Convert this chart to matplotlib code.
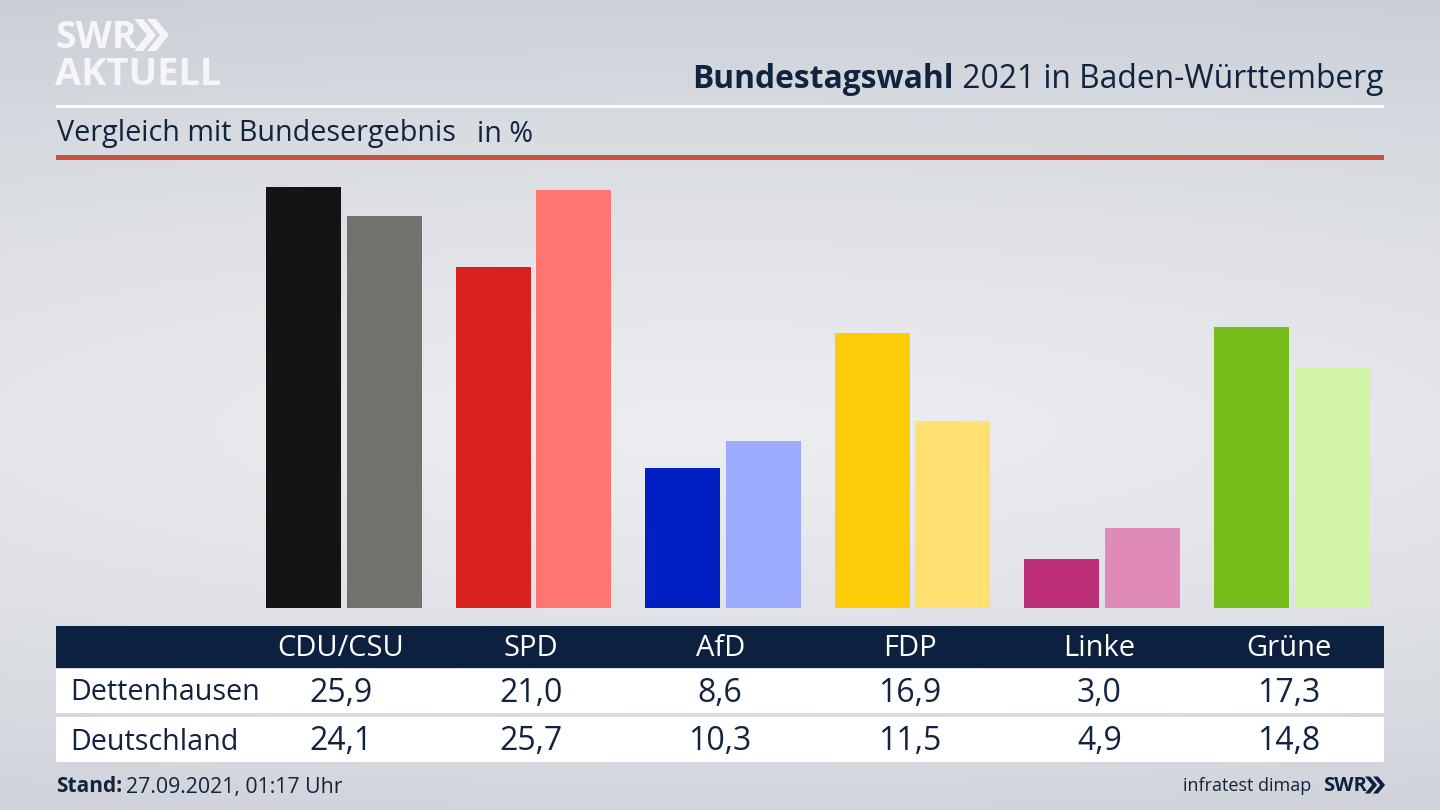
import numpy as np
import matplotlib
matplotlib.use("Agg")
import matplotlib.pyplot as plt
from matplotlib.patches import Rectangle, Polygon
from matplotlib.transforms import blended_transform_factory

parties = ["CDU/CSU", "SPD", "AfD", "FDP", "Linke", "Grüne"]
dettenhausen = [25.9, 21.0, 8.6, 16.9, 3.0, 17.3]
deutschland = [24.1, 25.7, 10.3, 11.5, 4.9, 14.8]
row_names = ["Dettenhausen", "Deutschland"]
colors_local = ["#141414", "#d8201f", "#0020c4", "#ffcc0a", "#bc2e78", "#77bd1c"]
colors_national = ["#72716e", "#ff7570", "#9dabff", "#ffe070", "#e08ab8", "#d3f5a8"]
fmt = lambda v: f"{v:.1f}".replace(".", ",")

W, H = 1440, 810
NAVY = "#0c2140"
TEXT = "#10233f"
FONT = "Open Sans"
plt.rcParams["font.family"] = [FONT, "DejaVu Sans"]

fig = plt.figure(figsize=(14.4, 8.1), dpi=100)

# background gradient
bg = fig.add_axes([0, 0, 1, 1], zorder=0)
yy, xx = np.mgrid[0:1:162j, 0:1:288j]
d = np.sqrt(((yy - 0.53) / 0.56) ** 2 + ((xx - 0.5) / 1.5) ** 2)
g = np.clip(d, 0, 1) ** 1.2
top = np.array([0.925, 0.93, 0.945])
edge = np.array([0.80, 0.815, 0.84])
img = top[None, None, :] * (1 - g[..., None]) + edge[None, None, :] * g[..., None]
bg.imshow(img, extent=[0, W, H, 0], aspect="auto", interpolation="bilinear")
bg.set_xlim(0, W)
bg.set_ylim(H, 0)
bg.axis("off")

# overlay in pixel coordinates
ov = fig.add_axes([0, 0, 1, 1], zorder=1)
ov.set_xlim(0, W)
ov.set_ylim(H, 0)
ov.axis("off")
ov.patch.set_alpha(0)

ov.add_patch(Rectangle((56, 104.5), 1328, 3, color="white", lw=0))
ov.add_patch(Rectangle((56, 155), 1328, 5, color="#c8503f", lw=0))
ov.add_patch(Rectangle((56, 626), 1328, 42, color=NAVY, lw=0))
ov.add_patch(Rectangle((56, 669), 1328, 44, color="white", lw=0))
ov.add_patch(Rectangle((56, 717), 1328, 45, color="white", lw=0))

# logo
LOGO = "#f5f6f8"
ov.text(55, 37.5, "SWR", color=LOGO, fontsize=27, fontweight="bold", va="center", ha="left", family="Open Sans",
        stretch="condensed")
ov.text(55, 75, "AKTUELL", color=LOGO, fontsize=27.4, fontweight="bold", va="center", ha="left", family="Open Sans")
for x0, s, yc, h, col in [(134, 1, 35, 16, LOGO), (147, 1, 35, 16, LOGO),
                          (1365, 0.55, 785, 8.5, NAVY), (1373, 0.55, 785, 8.5, NAVY)]:
    w = 9 * s
    dx = 13 * s
    ov.add_patch(Polygon([(x0, yc - h), (x0 + w, yc - h), (x0 + w + dx, yc), (x0 + w, yc + h),
                          (x0, yc + h), (x0 + dx, yc)], color=col, lw=0))

# titles
t2 = ov.text(1383, 80, " 2021 in Baden-Württemberg", color=TEXT, fontsize=22.9, ha="right", va="center")
fig.canvas.draw()
bb = t2.get_window_extent()
ov.text(bb.x0, 80, "Bundestagswahl", color=TEXT, fontsize=22.9, fontweight="bold", ha="right", va="center")
ov.text(57, 134, "Vergleich mit Bundesergebnis", color=TEXT, fontsize=20.7, ha="left", va="center")
ov.text(477, 134, "in %", color=TEXT, fontsize=20.7, ha="left", va="center")

ov.text(56, 787, "Stand:", color=TEXT, fontsize=15, fontweight="bold", ha="left", va="center")
ov.text(126, 787, "27.09.2021, 01:17 Uhr", color=TEXT, fontsize=15.3, ha="left", va="center")
ov.text(1311, 786, "infratest dimap", color=TEXT, fontsize=13, ha="right", va="center")
ov.text(1323, 786, "SWR", color=NAVY, fontsize=14.5, fontweight="bold", ha="left", va="center")

# bars: value axis with baseline at y=608 px and 16.25 px per percent
px_per_unit = 16.25
group_px = 189.6
x0_px = 343.8
ax_left, ax_right, ax_bottom, ax_top = 56, 1384, 608, 170
ax = fig.add_axes([ax_left / W, 1 - ax_bottom / H, (ax_right - ax_left) / W, (ax_bottom - ax_top) / H], zorder=2)
ax.patch.set_alpha(0)
ax.set_xlim((ax_left - x0_px) / group_px, (ax_right - x0_px) / group_px)
ax.set_ylim(0, (ax_bottom - ax_top) / px_per_unit)
ax.axis("off")
x = np.arange(len(parties))
bw = 75 / group_px
off = 40.25 / group_px
ax.bar(x - off, dettenhausen, bw, color=colors_local, lw=0)
ax.bar(x + off, deutschland, bw, color=colors_national, lw=0)

# table text, aligned to the bar scale
tr = blended_transform_factory(ax.transData, ov.transData)
label_shift = -2.8 / group_px
for i, p in enumerate(parties):
    xp = x[i] + label_shift
    ov.text(xp, 649, p, color="white", fontsize=21, ha="center", va="center", transform=tr)
    ov.text(xp, 693, fmt(dettenhausen[i]), color=TEXT, fontsize=23, ha="center", va="center", transform=tr)
    ov.text(xp, 742, fmt(deutschland[i]), color=TEXT, fontsize=23, ha="center", va="center", transform=tr)
ov.text(70, 693, row_names[0], color=TEXT, fontsize=20.7, ha="left", va="center")
ov.text(70, 742, row_names[1], color=TEXT, fontsize=20.7, ha="left", va="center")

fig.savefig("out.png", dpi=100)
